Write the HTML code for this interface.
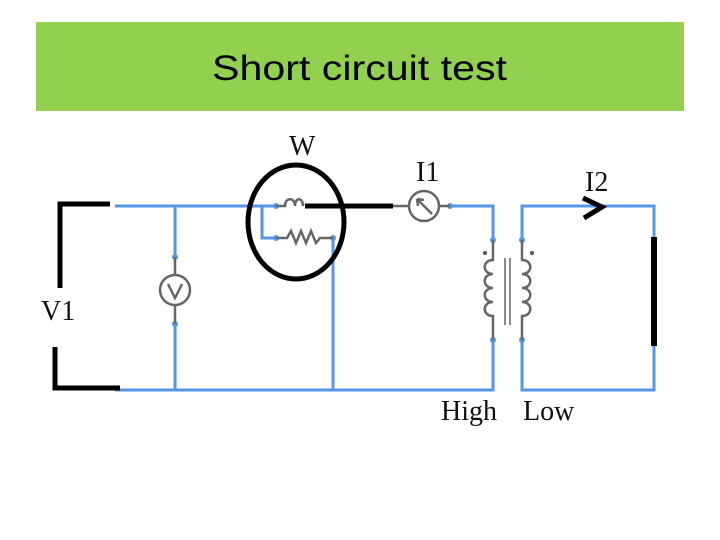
<!DOCTYPE html>
<html><head><style>body{margin:0;background:#fff}svg{display:block}</style></head><body>
<svg width="720" height="540" viewBox="0 0 720 540" xmlns="http://www.w3.org/2000/svg">
<rect x="36" y="22" width="648" height="89" fill="#92d050"/>
<text x="212" y="80" font-family="Liberation Sans, sans-serif" font-size="35" textLength="295" lengthAdjust="spacingAndGlyphs" fill="#000">Short circuit test</text>
<g stroke="#5596ea" stroke-width="3" fill="none">
<path d="M115 206H276M262 206V238H276M333 238V390M450 206H493V240M493 340V390H115M175 206V257M175 324V390"/>
<path d="M522 240V206H654V390H522V340"/>
</g>
<g fill="#5596ea">
<circle cx="276" cy="206" r="3"/><circle cx="276" cy="238" r="3"/><circle cx="333" cy="238" r="3"/>
<circle cx="175" cy="257" r="3"/><circle cx="175" cy="324" r="3"/><circle cx="450" cy="206" r="3"/>
<circle cx="493" cy="240" r="3"/><circle cx="493" cy="340" r="3"/><circle cx="522" cy="240" r="3"/><circle cx="522" cy="340" r="3"/>
</g>
<g stroke="#666" stroke-width="2.5" fill="none">
<circle cx="175" cy="290" r="15"/><path d="M175 257V275M175 305V324"/>
<path d="M168 284L175 298L182 284"/>
<circle cx="424" cy="206" r="15"/><path d="M392 206H409M439 206H450M432 214L417 199M417 199l1 7M417 199l7 1"/>
<path d="M276 206H285c0-9 10-9 10 0c0-9 8-9 8 0"/>
<path d="M276 238H287l4-7 5 12 5-12 5 12 5-12 5 12 4-5H333"/>
<path d="M493 240V260c-11 0-11 14 0 14c-11 0-11 14 0 14c-11 0-11 14 0 14c-11 0-11 14 0 14V340"/>
<path d="M522 240V260c11 0 11 14 0 14c11 0 11 14 0 14c11 0 11 14 0 14c11 0 11 14 0 14V340"/>
<path d="M505 258V325M510 258V325" stroke-width="1.5"/>
</g>
<circle cx="485" cy="253" r="2" fill="#555"/><circle cx="532" cy="253" r="2" fill="#555"/>
<g stroke="#000" stroke-width="5" fill="none">
<path d="M305 206H393"/>
<ellipse cx="296" cy="222" rx="48" ry="57"/>
<path d="M110 204H60V288M55 347V388H120"/>
<path d="M654 237V346" stroke-width="6"/>
<path d="M583 198L602 207L584 218"/>
</g>
<g font-family="Liberation Serif, serif" font-size="28" fill="#111">
<text x="41" y="320">V1</text>
<text x="289" y="155">W</text>
<text x="416" y="181">I1</text>
<text x="585" y="191">I2</text>
<text x="441" y="420">High</text>
<text x="523" y="420">Low</text>
</g>
</svg>
</body></html>
